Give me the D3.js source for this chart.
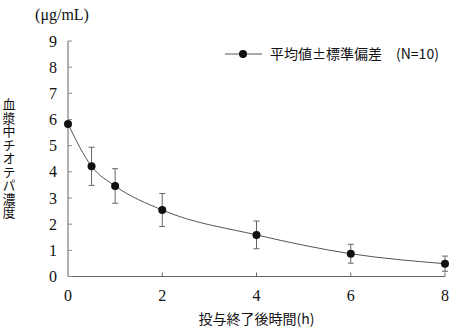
<!DOCTYPE html>
<html><head><meta charset="utf-8">
<script src="https://cdn.jsdelivr.net/npm/d3@7"></script>
<style>body{margin:0;background:#fff}svg{display:block}</style>
</head><body>
<script>
const times = [0, 0.5, 1, 2, 4, 6, 8];
const means = [5.83, 4.21, 3.46, 2.54, 1.59, 0.87, 0.49];
const sds = [0.0, 0.73, 0.66, 0.63, 0.53, 0.36, 0.29];
const xTicks = [0, 2, 4, 6, 8];
const yTicks = [0, 1, 2, 3, 4, 5, 6, 7, 8, 9];
const yUnit = "(μg/mL)";
const yTitle = "血漿中チオテパ濃度";
const xTitle = "投与終了後時間(h)";
const legendText = "平均値±標準偏差　(N=10)";

const W = 452, H = 329;
const svg = d3.select("body").append("svg").attr("width", W).attr("height", H);
const x = d3.scaleLinear().domain([0, 8]).range([68, 445]);
const y = d3.scaleLinear().domain([0, 9]).range([276.5, 41]);
const numFont = "'Liberation Serif', 'DejaVu Serif', serif";
const cjkFont = "'Noto Sans CJK JP', sans-serif";

// axes
svg.append("line").attr("x1", x(0)).attr("x2", x(0)).attr("y1", y(0)).attr("y2", y(9))
  .attr("stroke", "#b0b0b0").attr("stroke-width", 2);
svg.append("line").attr("x1", x(0)).attr("x2", x(8)).attr("y1", y(0)).attr("y2", y(0))
  .attr("stroke", "#666").attr("stroke-width", 1);

svg.selectAll(".yt").data(yTicks).join("line")
  .attr("x1", x(0)).attr("x2", x(0) + 4)
  .attr("y1", d => y(d)).attr("y2", d => y(d))
  .attr("stroke", "#888").attr("stroke-width", 1);
svg.selectAll(".xt").data(xTicks.slice(1)).join("line")
  .attr("x1", d => x(d)).attr("x2", d => x(d))
  .attr("y1", y(0)).attr("y2", y(0) - 4)
  .attr("stroke", "#666").attr("stroke-width", 1);

svg.selectAll(".yl").data(yTicks).join("text")
  .attr("x", 57).attr("y", d => y(d) + 5.5)
  .attr("text-anchor", "end").attr("font-family", numFont).attr("font-size", 16)
  .attr("fill", "#111").text(d => d);
svg.selectAll(".xl").data(xTicks).join("text")
  .attr("x", d => x(d)).attr("y", 301)
  .attr("text-anchor", "middle").attr("font-family", numFont).attr("font-size", 16)
  .attr("fill", "#111").text(d => d);

// titles
svg.append("text").attr("x", 62).attr("y", 20).attr("text-anchor", "middle")
  .attr("font-family", numFont).attr("font-size", 16).attr("fill", "#111").text(yUnit);
svg.append("text").attr("x", 9).attr("y", 98)
  .attr("writing-mode", "tb").style("writing-mode", "vertical-rl")
  .style("text-orientation", "upright").attr("letter-spacing", 0.5)
  .attr("font-family", cjkFont).attr("font-size", 13).attr("fill", "#111").text(yTitle);
svg.append("text").attr("x", x(4)).attr("y", 324).attr("text-anchor", "middle")
  .attr("font-family", cjkFont).attr("font-size", 14).attr("fill", "#111").text(xTitle);

// line
const data = times.map((t, i) => ({t, m: means[i], s: sds[i]}));
svg.append("path").datum(data)
  .attr("d", d3.line().x(d => x(d.t)).y(d => y(d.m)).curve(d3.curveMonotoneX))
  .attr("fill", "none").attr("stroke", "#555").attr("stroke-width", 1);

// error bars
const eb = svg.selectAll(".eb").data(data.filter(d => d.s > 0)).join("g");
eb.append("line").attr("x1", d => x(d.t)).attr("x2", d => x(d.t))
  .attr("y1", d => y(d.m + d.s)).attr("y2", d => y(d.m - d.s))
  .attr("stroke", "#666").attr("stroke-width", 1);
eb.append("line").attr("x1", d => x(d.t) - 3).attr("x2", d => x(d.t) + 3)
  .attr("y1", d => y(d.m + d.s)).attr("y2", d => y(d.m + d.s)).attr("stroke", "#666");
eb.append("line").attr("x1", d => x(d.t) - 3).attr("x2", d => x(d.t) + 3)
  .attr("y1", d => y(d.m - d.s)).attr("y2", d => y(d.m - d.s)).attr("stroke", "#666");

svg.selectAll(".pt").data(data).join("circle")
  .attr("cx", d => x(d.t)).attr("cy", d => y(d.m)).attr("r", 4).attr("fill", "#111");

// legend
svg.append("line").attr("x1", 225).attr("x2", 262).attr("y1", 54).attr("y2", 54)
  .attr("stroke", "#555").attr("stroke-width", 1);
svg.append("circle").attr("cx", 243).attr("cy", 54).attr("r", 4).attr("fill", "#111");
svg.append("text").attr("x", 270).attr("y", 59).attr("font-family", cjkFont)
  .attr("font-size", 14).attr("fill", "#111").text(legendText);
</script>
</body></html>
